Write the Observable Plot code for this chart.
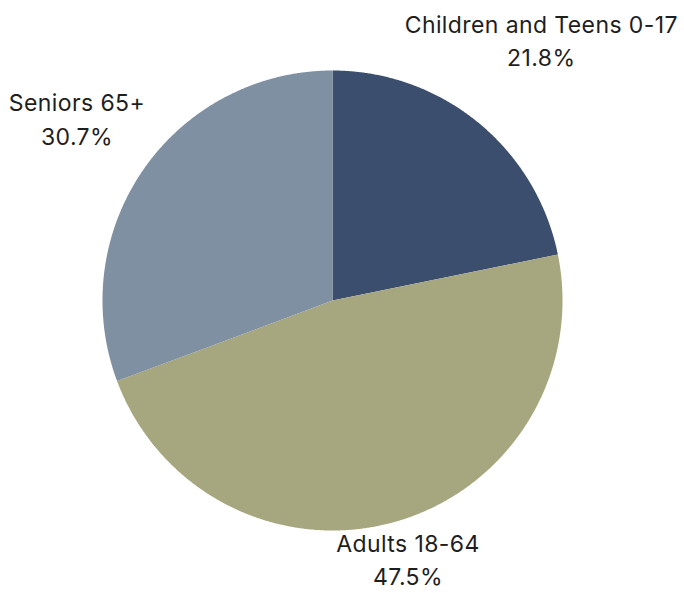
<!DOCTYPE html>
<html>
<head>
<meta charset="utf-8">
<script src="https://cdn.jsdelivr.net/npm/d3@7"></script>
<script src="https://cdn.jsdelivr.net/npm/@observablehq/plot@0.6"></script>
<style>
  html, body { margin: 0; padding: 0; background: #fff; }
  #chart svg { display: block; }
  #chart svg text { letter-spacing: 0.4px; }
</style>
</head>
<body>
<div id="chart"></div>
<script>
const categories = ["Children and Teens 0-17", "Adults 18-64", "Seniors 65+"];
const shares = [21.8, 47.5, 30.7];
const percentLabels = ["21.8%", "47.5%", "30.7%"];
const sliceColors = ["#3c4e6d", "#a6a67f", "#7f90a2"];
const labelRadius = [1.435, 1.19, 1.352];

// Build slice outlines from the pie layout (angles from 12 o'clock, clockwise)
const pie = d3.pie().sort(null).value(d => d)(shares);
const slicePoints = [];
pie.forEach((p, i) => {
  slicePoints.push({cat: categories[i], x: 0, y: 0});
  const n = Math.max(2, Math.ceil((p.endAngle - p.startAngle) / 0.005));
  for (let k = 0; k <= n; k++) {
    const a = p.startAngle + (p.endAngle - p.startAngle) * k / n;
    slicePoints.push({cat: categories[i], x: Math.sin(a), y: Math.cos(a)});
  }
  slicePoints.push({cat: categories[i], x: 0, y: 0});
});

const labels = pie.map((p, i) => {
  const a = (p.startAngle + p.endAngle) / 2;
  return {
    text: categories[i] + "\n" + percentLabels[i],
    x: Math.sin(a) * labelRadius[i],
    y: Math.cos(a) * labelRadius[i]
  };
});

const chart = Plot.plot({
  width: 684,
  height: 593,
  margin: 0,
  x: {domain: [-1, 1], range: [102, 562], axis: null},
  y: {domain: [-1, 1], range: [530, 70], axis: null},
  color: {domain: categories, range: sliceColors},
  style: {background: "#fff"},
  marks: [
    Plot.line(slicePoints, {x: "x", y: "y", z: "cat", fill: "cat", stroke: "none"}),
    Plot.text(labels, {
      x: "x", y: "y", text: "text", dy: -6,
      fontSize: 23, fontFamily: "Inter, sans-serif", lineHeight: 1.45,
      fill: "#1e1e1e", textAnchor: "middle"
    })
  ]
});
document.getElementById("chart").append(chart);
</script>
</body>
</html>
